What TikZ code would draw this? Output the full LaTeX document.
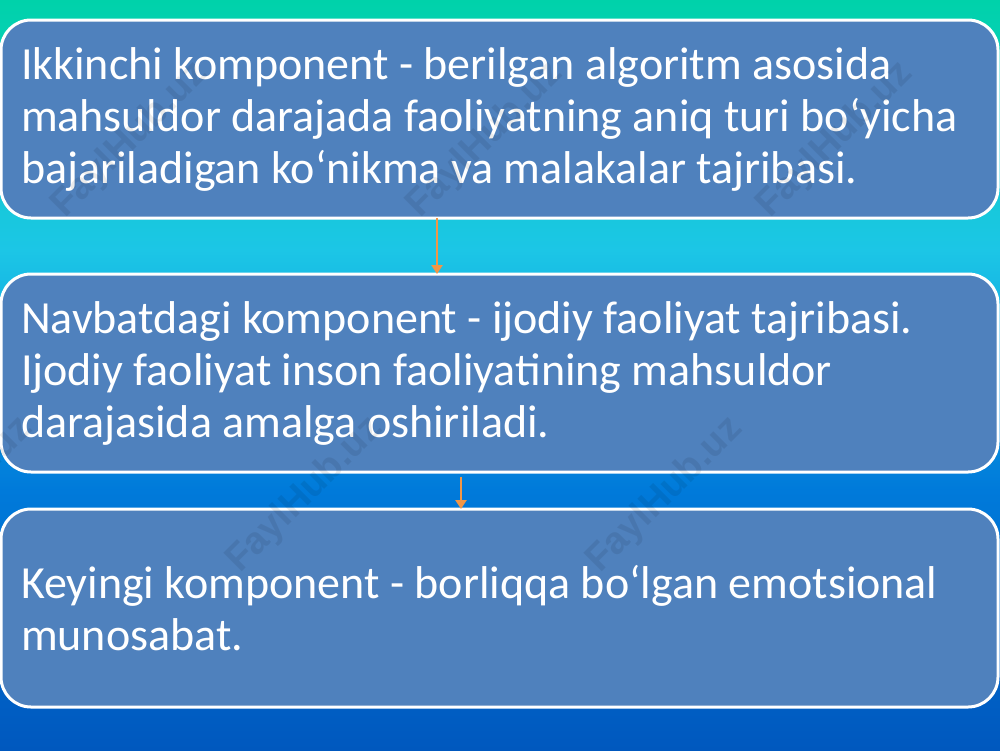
\documentclass[tikz,border=0pt]{standalone}
\usepackage{fontspec}
\setmainfont{Carlito}
\newfontfamily\wmfont{Liberation Sans}
\usetikzlibrary{arrows.meta}
\definecolor{bgA}{RGB}{0,210,170}
\definecolor{bgB}{RGB}{28,198,230}
\definecolor{bgC}{RGB}{0,122,218}
\definecolor{bgD}{RGB}{0,88,190}
\definecolor{boxfill}{RGB}{79,129,189}
\definecolor{arrcol}{RGB}{242,150,70}
\begin{document}
\begin{tikzpicture}[x=1pt,y=-1pt,
  stepbox/.style={draw=white, line width=3pt, fill=boxfill, rounded corners=30pt,
    minimum width=997pt, minimum height=198pt, outer sep=0pt, inner xsep=0pt,
    text width=957pt, align=flush left, text=white,
    font=\fontsize{46}{52}\selectfont},
  link/.style={draw=arrcol, line width=2.4pt, -{Triangle[width=11pt,length=9pt]}},
  wm/.style={rotate=45, text=black, opacity=0.08, font=\wmfont\bfseries\fontsize{38}{38}\selectfont}]
\useasboundingbox (0,0) rectangle (1000,750);
% background
\shade[top color=bgA, bottom color=bgB] (0,0) rectangle (1000,250.5);
\shade[top color=bgB, bottom color=bgC] (0,250) rectangle (1000,490.5);
\shade[top color=bgC, bottom color=bgD] (0,490) rectangle (1000,750);
% boxes
\node[stepbox] (b1) at (499.5,119) {Ikkinchi komponent - berilgan algoritm asosida\\
mahsuldor darajada faoliyatning aniq turi bo‘yicha\\
bajariladigan ko‘nikma va malakalar tajribasi.};
\node[stepbox] (b2) at (499.5,373) {Navbatdagi komponent - ijodiy faoliyat tajribasi.\\
Ijodiy faoliyat inson faoliyatining mahsuldor\\
darajasida amalga oshiriladi.};
\node[stepbox] (b3) at (499.5,608) {Keyingi komponent - borliqqa bo‘lgan emotsional\\
munosabat.};
% connectors
\coordinate (x1) at (437,0);
\coordinate (x2) at (461,0);
\draw[link] (b1.south -| x1) -- (b2.north -| x1);
\draw[link, shorten <=5pt] (b2.south -| x2) -- (b3.north -| x2);
% watermarks
\node[wm] (w1) at (130,140) {FaylHub.uz};
\node[wm] (w2) at (485,140) {FaylHub.uz};
\node[wm] (w3) at (835,140) {FaylHub.uz};
\node[wm] (w4) at (-45,495) {FaylHub.uz};
\node[wm] (w5) at (305,495) {FaylHub.uz};
\node[wm] (w6) at (665,495) {FaylHub.uz};
\end{tikzpicture}
\end{document}
